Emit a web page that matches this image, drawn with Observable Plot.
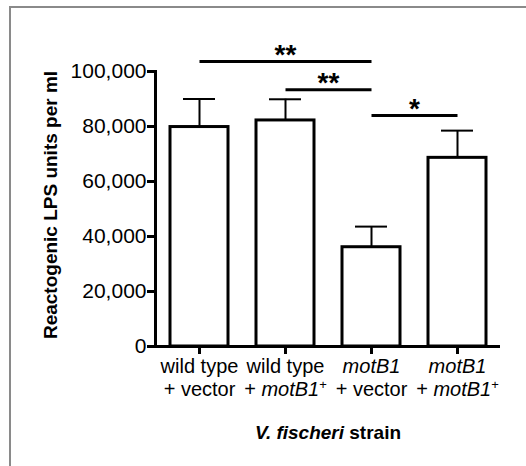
<!DOCTYPE html>
<html><head><meta charset="utf-8">
<script src="https://cdn.jsdelivr.net/npm/d3@7"></script>
<script src="https://cdn.jsdelivr.net/npm/@observablehq/plot@0.6"></script>
<style>
html,body{margin:0;padding:0;background:#fff;overflow:hidden;width:526px;height:466px;}
#frame{position:absolute;left:9px;top:6px;width:800px;height:800px;border-top:2px solid #8a8a8a;border-left:2px solid #8a8a8a;box-sizing:border-box;}
#chart{position:absolute;left:0;top:0;}
</style></head><body>
<div id="frame"></div><div id="chart"></div>
<script>
// ---- data ----
const strains = ["wild type\n+ vector", "wild type\n+ motB1+", "motB1\n+ vector", "motB1\n+ motB1+"];
const means = [79800, 82200, 36100, 68600];
const errs = [10200, 7700, 7500, 9900];
const yTicks = [0, 20000, 40000, 60000, 80000, 100000];
const sigFrom = ["wild type\n+ vector", "wild type\n+ motB1+", "motB1\n+ vector"];
const sigTo = ["motB1\n+ vector", "motB1\n+ vector", "motB1\n+ motB1+"];
const sigY = [103600, 93400, 84000];
const sigLabel = ["**", "**", "*"];
const xTitle = ["V. fischeri", " strain"];
const yTitle = "Reactogenic LPS units per ml";

const data = strains.map((s, i) => ({strain: s, mean: means[i], err: errs[i]}));
const sigs = sigFrom.map((f, i) => ({from: f, to: sigTo[i], y: sigY[i], label: sigLabel[i]}));

const base = {
  width: 526, height: 466,
  marginLeft: 155, marginRight: 26, marginTop: 71, marginBottom: 120,
  style: {fontFamily: "'Liberation Sans', Arial, sans-serif", fontSize: "18px", background: "transparent", color: "#000"},
  x: {domain: strains, paddingInner: 0.33, paddingOuter: 0.17},
  y: {domain: [0, 100000]}
};

// probe to read x-scale geometry
const probe = Plot.plot({...base, axis: null, marks: [Plot.barY(data, {x: "strain", y: "mean"})]});
const xs = probe.scale("x");
const posOf = (v) => xs.apply(v);

const starMarks = sigs.map(s => Plot.text([s], {
  x: "from", y: "y", text: "label",
  dx: (posOf(s.to) - posOf(s.from)) / 2, dy: 2,
  lineAnchor: "bottom", fontSize: 28, fontWeight: "bold"
}));

const chart = Plot.plot({
  ...base,
  marks: [
    Plot.ruleX(data, {x: "strain", y1: "mean", y2: d => d.mean + d.err, strokeWidth: 2}),
    Plot.tickY(data, {x: "strain", y: d => d.mean + d.err, strokeWidth: 2, insetLeft: 13, insetRight: 13}),
    Plot.barY(data, {x: "strain", y: "mean", fill: "white", stroke: "black", strokeWidth: 3}),
    Plot.frame({anchor: "left", strokeWidth: 3}),
    Plot.ruleY([0], {strokeWidth: 3}),
    Plot.axisY({ticks: yTicks, tickFormat: d3.format(","), tickSize: 8, tickPadding: 1, strokeWidth: 3,
      label: yTitle, labelAnchor: "center", labelOffset: 112, labelArrow: "none"}),
    Plot.axisX({tickSize: 8, tickPadding: 3, strokeWidth: 3, tickFormat: d => d,
      label: "V. fischeri strain", labelAnchor: "center", labelOffset: 92, labelArrow: "none"}),
    Plot.link(sigs, {x1: "from", x2: "to", y1: "y", y2: "y", strokeWidth: 3}),
    ...starMarks
  ]
});
document.getElementById("chart").appendChild(chart);

// ---- text styling (italics / superscripts / bold titles) ----
const svg = d3.select(chart);
function fillLine(tsp, str) {
  const re = /motB1(\+)?/g;
  let last = 0, m;
  while ((m = re.exec(str))) {
    if (m.index > last) tsp.append("tspan").text(str.slice(last, m.index));
    tsp.append("tspan").attr("font-style", "italic").text("motB1");
    if (m[1]) tsp.append("tspan").attr("font-size", 13).attr("dy", -7).text("+");
    last = m.index + m[0].length;
  }
  if (last < str.length) tsp.append("tspan").text(str.slice(last));
}
svg.selectAll('g[aria-label="x-axis tick label"]').attr("font-size", 20);
svg.selectAll('g[aria-label="x-axis tick label"] text').each(function(_, i) {
  const t = d3.select(this);
  t.selectAll("*").remove();
  t.text(null).attr("y", null).attr("font-size", 20);
  strains[i].split("\n").forEach((line, k) => {
    const tsp = t.append("tspan").attr("x", 0).attr("y", 15 + k * 23.5);
    fillLine(tsp, line);
  });
});
svg.selectAll('g[aria-label="y-axis tick label"]').attr("font-size", 21);
svg.selectAll('g[aria-label="y-axis tick label"] text').attr("font-size", 21);
svg.selectAll('g[aria-label="x-axis label"] text').each(function() {
  const t = d3.select(this);
  t.selectAll("*").remove();
  t.text(null).attr("font-weight", "bold").attr("font-size", 19);
  t.append("tspan").attr("font-style", "italic").text(xTitle[0]);
  t.append("tspan").text(xTitle[1]);
});
svg.selectAll('g[aria-label="y-axis label"]').attr("font-size", 19);
svg.selectAll('g[aria-label="y-axis label"] text').attr("font-weight", "bold").attr("font-size", 19).attr("dx", 4);
</script>
</body></html>
